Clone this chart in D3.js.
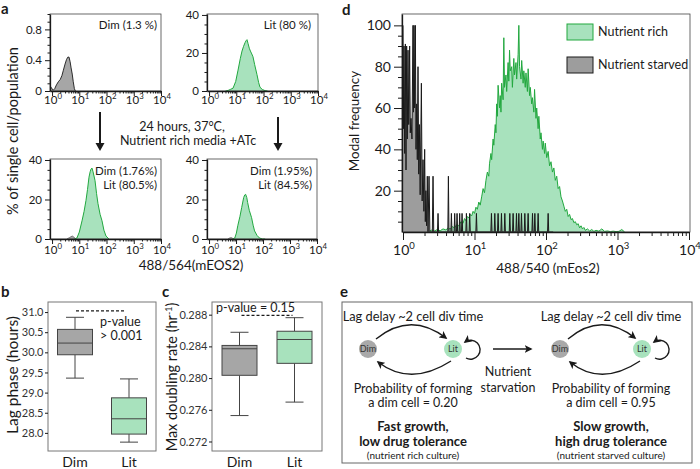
<!DOCTYPE html>
<html><head><meta charset="utf-8">
<script src="https://cdn.jsdelivr.net/npm/d3@7"></script>
<style>
body{margin:0;background:#fff;}
svg{display:block;font-family:Lato,'Open Sans',sans-serif;}
</style></head><body>
<svg id="c" width="700" height="469"></svg>
<script>
// ---------------- DATA ----------------
// Panel a histograms (x = fluorescence 488/564, y = % of population)
const aTL_x = [0.84, 0.95, 1.1, 1.25, 1.45, 1.7, 2.0, 2.3, 2.6, 3.0, 3.4, 3.8, 4.2, 4.6, 5.0, 5.5, 6.0, 6.6, 7.2];
const aTL_y = [0.07, 0.04, 0.01, 0.03, 0.08, 0.12, 0.15, 0.20, 0.27, 0.35, 0.41, 0.44, 0.44, 0.38, 0.30, 0.22, 0.12, 0.03, 0.0];
const aTR_x = [4.0, 5.0, 6.0, 7.6, 9.5, 11.6, 14, 16.2, 18.5, 20.9, 23, 24.7, 27, 30, 33, 37, 41, 47, 57.5, 66, 74, 90, 113, 140];
const aTR_y = [0, 0.3, 0.8, 1.5, 5, 11, 17, 21, 23.5, 25.4, 26.5, 27, 25, 22.5, 21, 19.5, 18, 14, 8.6, 4.5, 2, 0.8, 0.2, 0];
const aBL_x = [6.5, 8.2, 10, 12.6, 15, 17.6, 20, 22.7, 25, 27, 29.3, 32, 37.7, 43, 48.6, 58, 68.2, 80, 95.6, 123];
const aBL_y = [0, 0.5, 3.5, 9.2, 14, 19.5, 25, 31.3, 34, 35.4, 35.9, 34, 29.7, 23, 17.9, 12.5, 9.2, 4.5, 1.5, 0];
const aBLdim_x = [3.5, 4.5, 5.5, 6.5, 7.5];
const aBLdim_y = [0, 0.8, 1.5, 0.8, 0];
const aBR_x = [7.5, 9.0, 10.3, 11.6, 14, 16.2, 19.2, 21, 22.7, 25, 26.9, 31, 37.7, 43, 48.6, 60, 74, 95.6, 120];
const aBR_y = [0, 0.5, 3, 6.7, 11.5, 15.9, 21, 22.3, 22.6, 21, 18.5, 14.5, 10.8, 7, 4.1, 1.8, 0.5, 0, 0];
const aBRdim_x = [5, 6, 7, 8];
const aBRdim_y = [0, 0.6, 0.6, 0];
const aTicksDim = [0, 0.4, 0.8];
const aMinorDim = [0.1, 0.2, 0.3, 0.5, 0.6, 0.7, 0.9, 1.0];
const aTicksLit = [0, 20, 40];
const aMinorLit = [5, 10, 15, 25, 30, 35];
const logTicks = [1, 10, 100, 1000, 10000];
const logExps = ["0", "1", "2", "3", "4"];

// Panel b / c box plots
const boxCats = ["Dim", "Lit"];
const lagMin = [29.36, 27.77], lagQ1 = [29.94, 27.97], lagMed = [30.23, 28.35], lagQ3 = [30.57, 28.87], lagMax = [30.87, 29.34];
const rateMin = [0.27527, 0.27697], rateQ1 = [0.28035, 0.28186], rateMed = [0.28370, 0.28487], rateQ3 = [0.28412, 0.28591], rateMax = [0.28578, 0.28762];
const lagTicks = [28.0, 28.5, 29.0, 29.5, 30.0, 30.5, 31.0];
const rateTicks = [0.272, 0.276, 0.280, 0.284, 0.288];

// Panel d histograms: [log10(488/540), modal frequency]
const nutrientRich = [[0.00,1.0],[0.04,0.6],[0.08,1.2],[0.12,0.5],[0.16,0.8],[0.20,0.4],[0.24,1.0],[0.28,0.5],[0.32,0.7],[0.36,0.3],[0.40,0.9],[0.44,0.5],[0.48,1.2],[0.52,0.6],[0.56,1.5],[0.60,1.0],[0.63,2.0],[0.66,1.4],[0.69,2.6],[0.72,2.0],[0.75,3.5],[0.78,3.0],[0.81,5.0],[0.84,4.2],[0.86,6.5],[0.88,5.5],[0.90,7.5],[0.92,6.8],[0.94,8.5],[0.96,7.8],[0.98,10.0],[1.00,9.0],[1.02,12.0],[1.04,11.0],[1.06,14.5],[1.08,13.0],[1.10,17.0],[1.12,21.0],[1.14,19.0],[1.16,25.0],[1.18,29.0],[1.20,27.0],[1.21,33.0],[1.23,38.0],[1.24,35.0],[1.26,45.0],[1.27,42.0],[1.29,52.0],[1.30,48.0],[1.31,62.0],[1.32,56.0],[1.33,71.0],[1.35,60.0],[1.36,66.0],[1.37,58.0],[1.38,72.0],[1.40,64.0],[1.41,94.0],[1.42,70.0],[1.44,76.0],[1.45,68.0],[1.47,82.0],[1.48,73.0],[1.49,88.0],[1.50,78.0],[1.52,80.0],[1.53,70.0],[1.55,84.0],[1.56,76.0],[1.58,82.0],[1.59,74.0],[1.61,86.0],[1.62,100.0],[1.63,80.0],[1.65,74.0],[1.66,83.0],[1.68,72.0],[1.69,78.0],[1.71,70.0],[1.72,77.0],[1.74,68.0],[1.75,79.0],[1.77,66.0],[1.78,70.0],[1.80,62.0],[1.81,65.0],[1.83,58.0],[1.84,69.0],[1.86,55.0],[1.87,60.0],[1.89,50.0],[1.90,56.0],[1.92,45.0],[1.93,48.0],[1.95,40.0],[1.96,44.0],[1.98,38.0],[1.99,43.0],[2.01,36.0],[2.03,39.0],[2.05,32.0],[2.07,34.0],[2.09,29.0],[2.11,31.0],[2.13,25.0],[2.15,27.0],[2.17,21.0],[2.19,22.0],[2.21,17.0],[2.23,15.0],[2.25,12.5],[2.27,10.0],[2.29,11.0],[2.31,7.5],[2.33,8.5],[2.35,6.0],[2.37,6.5],[2.39,4.5],[2.41,5.0],[2.43,3.5],[2.45,4.0],[2.47,2.0],[2.49,3.0],[2.51,1.5],[2.53,2.2],[2.55,0.8],[2.58,1.5],[2.61,0.5],[2.64,1.2],[2.67,0.3],[2.70,0.8],[2.74,0.4],[2.78,1.5],[2.82,0.3],[2.86,0.5],[2.90,0.2],[2.94,0.4],[2.98,0.2],[3.02,0.3],[3.06,1.2],[3.10,0.0]];
const nutrientStarved = [[0.000,100],[0.007,50],[0.014,90],[0.024,38],[0.033,91],[0.042,30],[0.051,90],[0.060,45],[0.070,88],[0.080,52],[0.093,90],[0.102,48],[0.112,55],[0.125,45],[0.140,100],[0.147,58],[0.154,100],[0.163,60],[0.173,100],[0.182,40],[0.191,62],[0.200,35],[0.210,80],[0.220,28],[0.229,52],[0.240,18],[0.257,72],[0.268,15],[0.280,35],[0.292,10],[0.303,40],[0.312,5],[0.320,20],[0.330,3],[0.340,27],[0.350,0],[0.364,27],[0.376,0],[0.410,0],[0.420,27],[0.430,0],[0.482,0],[0.490,9],[0.498,0],[0.627,0],[0.635,27],[0.643,0],[0.669,0],[0.677,9],[0.685,0],[0.715,0],[0.723,9],[0.731,0],[0.748,0],[0.756,9],[0.764,0],[0.785,0],[0.793,9],[0.801,0],[0.818,0],[0.826,9],[0.834,0],[0.879,0],[0.887,9],[0.895,0],[0.925,0],[0.933,9],[0.941,0],[1.019,0],[1.027,9],[1.035,0],[1.229,0],[1.237,9],[1.245,0],[1.276,0],[1.284,9],[1.292,0],[1.322,0],[1.330,9],[1.338,0],[1.369,0],[1.377,9],[1.385,0],[1.416,0],[1.424,9],[1.432,0],[1.486,0],[1.494,9],[1.502,0],[1.532,0],[1.540,9],[1.548,0],[1.579,0],[1.587,9],[1.595,0],[1.612,0],[1.620,9],[1.628,0],[1.649,0],[1.657,9],[1.665,0],[1.696,0],[1.704,9],[1.712,0],[1.742,0],[1.750,9],[1.758,0],[1.803,0],[1.811,9],[1.819,0],[1.836,0],[1.844,9],[1.852,0],[1.882,0],[1.890,9],[1.898,0],[2.022,0],[2.030,9],[2.038,0],[2.100,0]];
const dTicks = [20, 40, 60, 80, 100];
const dMinor = [5, 10, 15, 25, 30, 35, 45, 50, 55, 65, 70, 75, 85, 90, 95];
const legendLabels = ["Nutrient rich", "Nutrient starved"];

// ---------------- STYLE ----------------
const GREEN_FILL = "#a8e2bd", GREEN_LINE = "#22a83f", GRAY_FILL = "#a6a6a6", INK = "#1a1a1a";
const svg = d3.select("#c");
const defs = svg.append("defs");
defs.append("marker").attr("id", "ah").attr("viewBox", "0 0 10 10").attr("refX", 8).attr("refY", 5)
  .attr("markerWidth", 8).attr("markerHeight", 8).attr("markerUnits", "userSpaceOnUse").attr("orient", "auto")
  .append("path").attr("d", "M0,0 L10,5 L0,10 L2.5,5 Z").attr("fill", INK);

function txt(g, x, y, s, o = {}) {
  return g.append("text").attr("x", x).attr("y", y).attr("font-size", o.fs || 12)
    .attr("text-anchor", o.anchor || "start").attr("font-weight", o.bold ? "bold" : "normal")
    .attr("fill", o.fill || INK).text(s);
}
function rtxt(g, x, y, s, fs) {
  return g.append("text").attr("transform", `translate(${x},${y}) rotate(-90)`).attr("text-anchor", "middle")
    .attr("font-size", fs).attr("fill", INK).text(s);
}
function powLabel(g, x, y, exp, fs) {
  const t = g.append("text").attr("x", x).attr("y", y).attr("text-anchor", "middle").attr("font-size", fs).attr("fill", INK);
  t.append("tspan").text("10");
  t.append("tspan").attr("dy", -fs * 0.42).attr("font-size", fs * 0.68).text(exp);
}
function styleAxis(a, fs) {
  a.attr("font-family", null).attr("font-size", fs);
  a.selectAll("text").attr("fill", INK);
  a.selectAll("line").attr("stroke", INK);
}
let clipN = 0;
function drawHist(o) {
  const x = d3.scaleLog().domain(o.xDomain).range([o.x0, o.x1]);
  const y = d3.scaleLinear().domain([0, o.ymax]).range([o.y1, o.y0]);
  const id = "clip" + (clipN++);
  defs.append("clipPath").attr("id", id).append("rect")
    .attr("x", o.bx0).attr("y", o.y0).attr("width", o.bx1 - o.bx0).attr("height", o.y1 - o.y0);
  const g = svg.append("g");
  const pg = g.append("g").attr("clip-path", `url(#${id})`);
  const area = d3.area().x(d => x(d[0])).y0(y(0)).y1(d => y(d[1]));
  const line = d3.line().x(d => x(d[0])).y(d => y(d[1]));
  o.series.forEach(s => {
    pg.append("path").attr("d", area(s.pts)).attr("fill", s.fill);
    pg.append("path").attr("d", line(s.pts)).attr("fill", "none").attr("stroke", s.stroke)
      .attr("stroke-width", s.sw || 1).attr("stroke-linejoin", "round");
  });
  g.append("rect").attr("x", o.bx0).attr("y", o.y0).attr("width", o.bx1 - o.bx0).attr("height", o.y1 - o.y0)
    .attr("fill", "none").attr("stroke", "#444").attr("stroke-width", 0.8);
  // y axis
  const ya = g.append("g").attr("transform", `translate(${o.bx0},0)`)
    .call(d3.axisLeft(y).tickValues(o.yTicks).tickSize(o.majLen).tickSizeOuter(0).tickPadding(o.yPad).tickFormat(o.yFmt));
  styleAxis(ya, o.fs);
  ya.select(".domain").attr("stroke", INK).attr("stroke-width", 1.3);
  const ym = g.append("g").attr("transform", `translate(${o.bx0},0)`)
    .call(d3.axisLeft(y).tickValues(o.yMinor).tickSize(o.minLen).tickFormat(""));
  ym.select(".domain").remove(); ym.selectAll("line").attr("stroke", INK);
  // x axis
  const xa = g.append("g").attr("transform", `translate(0,${o.y1})`)
    .call(d3.axisBottom(x).tickValues(logTicks).tickSize(o.majLen).tickSizeOuter(0).tickFormat(""));
  styleAxis(xa, o.fs);
  xa.select(".domain").attr("stroke", INK).attr("stroke-width", 1.3);
  const minors = [];
  [1, 10, 100, 1000].forEach(d => [2, 3, 4, 5, 6, 7, 8, 9].forEach(m => minors.push(d * m)));
  const xm = g.append("g").attr("transform", `translate(0,${o.y1})`)
    .call(d3.axisBottom(x).tickValues(minors).tickSize(o.minLen).tickFormat(""));
  xm.select(".domain").remove(); xm.selectAll("line").attr("stroke", INK);
  logTicks.forEach((v, i) => powLabel(g, x(v) + 1, o.xLabY, logExps[i], o.xfs || o.fs));
  return g;
}
const zip = (xs, ys) => xs.map((v, i) => [v, ys[i]]);

// ---------------- PANEL a ----------------
const aBase = { xDomain: [0.84, 10000], majLen: 5, minLen: 2.5, yPad: 3, fs: 11.5, xfs: 11.5 };
const gTL = drawHist(Object.assign({}, aBase, { x0: 50, x1: 161, bx0: 50, bx1: 161, y0: 14, y1: 91, ymax: 1.0,
  yTicks: aTicksDim, yMinor: aMinorDim, yFmt: d3.format("~g"), xLabY: 104,
  series: [{ pts: zip(aTL_x, aTL_y), fill: GRAY_FILL, stroke: INK, sw: 0.9 }] }));
txt(gTL, 157, 29, "Dim (1.3 %)", { fs: 11.5, anchor: "end" });
const gTR = drawHist(Object.assign({}, aBase, { x0: 207, x1: 318, bx0: 207, bx1: 318, y0: 14, y1: 91, ymax: 40.5,
  yTicks: aTicksLit, yMinor: aMinorLit, yFmt: d3.format("d"), xLabY: 104,
  series: [{ pts: zip(aTR_x, aTR_y), fill: GREEN_FILL, stroke: GREEN_LINE }] }));
txt(gTR, 311, 29, "Lit (80 %)", { fs: 11.5, anchor: "end" });
const gBL = drawHist(Object.assign({}, aBase, { x0: 50, x1: 161, bx0: 50, bx1: 161, y0: 159, y1: 239, ymax: 40.5,
  yTicks: aTicksLit, yMinor: aMinorLit, yFmt: d3.format("d"), xLabY: 254,
  series: [{ pts: zip(aBLdim_x, aBLdim_y), fill: GRAY_FILL, stroke: "#777" },
           { pts: zip(aBL_x, aBL_y), fill: GREEN_FILL, stroke: GREEN_LINE }] }));
txt(gBL, 157, 175, "Dim (1.76%)", { fs: 11.5, anchor: "end" });
txt(gBL, 157, 189, "Lit (80.5%)", { fs: 11.5, anchor: "end" });
const gBR = drawHist(Object.assign({}, aBase, { x0: 207, x1: 317, bx0: 207, bx1: 317, y0: 159, y1: 239, ymax: 40.5,
  yTicks: aTicksLit, yMinor: aMinorLit, yFmt: d3.format("d"), xLabY: 254,
  series: [{ pts: zip(aBRdim_x, aBRdim_y), fill: GRAY_FILL, stroke: "#777" },
           { pts: zip(aBR_x, aBR_y), fill: GREEN_FILL, stroke: GREEN_LINE }] }));
txt(gBR, 312, 175, "Dim (1.95%)", { fs: 11.5, anchor: "end" });
txt(gBR, 312, 189, "Lit (84.5%)", { fs: 11.5, anchor: "end" });

const ga = svg.append("g");
txt(ga, 1, 14, "a", { fs: 15, bold: true });
rtxt(ga, 18, 131, "% of single cell/population", 14.5);
txt(ga, 191, 270, "488/564(mEOS2)", { fs: 13.5, anchor: "middle" });
txt(ga, 182, 131, "24 hours, 37°C,", { fs: 12.5, anchor: "middle" });
txt(ga, 188, 145, "Nutrient rich media +ATc", { fs: 12.5, anchor: "middle" });
[[100, 112, 151], [278, 117, 151]].forEach(([ax, ay0, ay1]) => {
  ga.append("line").attr("x1", ax).attr("x2", ax).attr("y1", ay0).attr("y2", ay1 - 6).attr("stroke", INK).attr("stroke-width", 2);
  ga.append("path").attr("d", `M${ax - 4.5},${ay1 - 8} L${ax + 4.5},${ay1 - 8} L${ax},${ay1} Z`).attr("fill", INK);
});

// ---------------- PANELS b, c ----------------
function boxPanel(o) {
  const x = d3.scalePoint().domain(boxCats).range([o.left, o.right]).padding(0.5);
  const y = d3.scaleLinear().domain(o.yDomain).range([o.bottom, o.top]);
  const g = svg.append("g");
  g.append("rect").attr("x", o.left).attr("y", o.top).attr("width", o.right - o.left).attr("height", o.bottom - o.top)
    .attr("fill", "none").attr("stroke", "#777").attr("stroke-width", 1);
  const fills = [GRAY_FILL, GREEN_FILL];
  boxCats.forEach((c, i) => {
    const cx = x(c), bw = 35, cw = 18;
    const st = "#444";
    g.append("line").attr("x1", cx).attr("x2", cx).attr("y1", y(o.max[i])).attr("y2", y(o.q3[i])).attr("stroke", st);
    g.append("line").attr("x1", cx).attr("x2", cx).attr("y1", y(o.q1[i])).attr("y2", y(o.min[i])).attr("stroke", st);
    g.append("line").attr("x1", cx - cw / 2).attr("x2", cx + cw / 2).attr("y1", y(o.max[i])).attr("y2", y(o.max[i])).attr("stroke", st);
    g.append("line").attr("x1", cx - cw / 2).attr("x2", cx + cw / 2).attr("y1", y(o.min[i])).attr("y2", y(o.min[i])).attr("stroke", st);
    g.append("rect").attr("x", cx - bw / 2).attr("y", y(o.q3[i])).attr("width", bw).attr("height", y(o.q1[i]) - y(o.q3[i]))
      .attr("fill", fills[i]).attr("stroke", st);
    g.append("line").attr("x1", cx - bw / 2).attr("x2", cx + bw / 2).attr("y1", y(o.med[i])).attr("y2", y(o.med[i])).attr("stroke", st);
    txt(g, cx, 466.5, c, { fs: 14, anchor: "middle" });
  });
  const ya = g.append("g").attr("transform", `translate(${o.left},0)`)
    .call(d3.axisLeft(y).tickValues(o.ticks).tickSize(3).tickSizeOuter(0).tickPadding(1.5).tickFormat(o.fmt));
  styleAxis(ya, 11);
  ya.select(".domain").remove();
  ya.selectAll("text").attr("fill", "#333");
  return { g, x, y };
}
const pb = boxPanel({ left: 48, right: 156, top: 302, bottom: 451, yDomain: [27.55, 31.25],
  min: lagMin, q1: lagQ1, med: lagMed, q3: lagQ3, max: lagMax, ticks: lagTicks, fmt: d3.format(".1f") });
pb.g.append("line").attr("x1", pb.x("Dim") + 1).attr("x2", pb.x("Lit") - 4).attr("y1", pb.y(31.03)).attr("y2", pb.y(31.03))
  .attr("stroke", INK).attr("stroke-width", 1.2).attr("stroke-dasharray", "3,2");
txt(pb.g, 100, 326, "p-value", { fs: 12.5 });
txt(pb.g, 100, 340, "> 0.001", { fs: 12.5 });
txt(pb.g, 1, 297, "b", { fs: 15, bold: true });
rtxt(pb.g, 18, 375, "Lag phase (hours)", 15.5);

const pc = boxPanel({ left: 212, right: 322, top: 302, bottom: 451, yDomain: [0.2708, 0.2896],
  min: rateMin, q1: rateQ1, med: rateMed, q3: rateQ3, max: rateMax, ticks: rateTicks, fmt: d3.format(".3f") });
pc.g.append("line").attr("x1", pc.x("Dim") + 2).attr("x2", pc.x("Lit") - 2).attr("y1", pc.y(0.2879)).attr("y2", pc.y(0.2879))
  .attr("stroke", INK).attr("stroke-width", 1.2).attr("stroke-dasharray", "3,2");
txt(pc.g, 216, 312, "p-value = 0.15", { fs: 12.5 });
txt(pc.g, 162, 297, "c", { fs: 15, bold: true });
const cy = rtxt(pc.g, 177, 377, "", 14.5);
cy.append("tspan").text("Max doubling rate (hr");
cy.append("tspan").attr("dy", -5).attr("font-size", 9).text("-1");
cy.append("tspan").attr("dy", 5).text(")");

// ---------------- PANEL d ----------------
const toLin = arr => arr.map(d => [Math.pow(10, d[0]), d[1]]);
const gD = drawHist({ xDomain: [1, 10000], x0: 403, x1: 689, bx0: 402, bx1: 690, y0: 14, y1: 232, ymax: 105.5,
  majLen: 8, minLen: 4, yPad: 3, fs: 14, yTicks: dTicks, yMinor: dMinor, yFmt: d3.format("d"), xLabY: 255,
  series: [{ pts: toLin(nutrientRich), fill: GREEN_FILL, stroke: GREEN_LINE, sw: 1 },
           { pts: toLin(nutrientStarved), fill: "#9d9d9d", stroke: INK, sw: 1 }] });
txt(gD, 342, 14.5, "d", { fs: 15, bold: true });
rtxt(gD, 359, 121, "Modal frequency", 13.5);
txt(gD, 548, 273, "488/540 (mEos2)", { fs: 13.5, anchor: "middle" });
const legFills = [[GREEN_FILL, GREEN_LINE], ["#9d9d9d", INK]];
legendLabels.forEach((l, i) => {
  gD.append("rect").attr("x", 567).attr("y", 24 + i * 33).attr("width", 26).attr("height", 16)
    .attr("fill", legFills[i][0]).attr("stroke", legFills[i][1]).attr("stroke-width", 1);
  txt(gD, 598, 36 + i * 33, l, { fs: 12.5 });
});

// ---------------- PANEL e ----------------
const ge = svg.append("g");
txt(ge, 340, 297, "e", { fs: 15, bold: true });
ge.append("rect").attr("x", 342).attr("y", 302).attr("width", 350).attr("height", 161)
  .attr("fill", "none").attr("stroke", "#666").attr("stroke-width", 1);
function cycle(dimX, litX, cx, prob, l1, l2, l3) {
  const cyy = 349, mid = (dimX + litX) / 2;
  const arr = (d) => ge.append("path").attr("d", d).attr("fill", "none").attr("stroke", INK).attr("stroke-width", 1.4).attr("marker-end", "url(#ah)");
  arr(`M${dimX + 8},${cyy - 10} Q${mid},${cyy - 38} ${litX - 7},${cyy - 11}`);
  arr(`M${litX - 2},${cyy + 12} Q${mid},${cyy + 38} ${dimX + 10},${cyy + 13}`);
  arr(`M${litX + 13},${cyy + 9} A9.5 9.5 0 1 0 ${litX + 12},${cyy - 7}`);
  ge.append("circle").attr("cx", dimX).attr("cy", cyy).attr("r", 9).attr("fill", "#a9a9a9");
  ge.append("circle").attr("cx", litX).attr("cy", cyy).attr("r", 9).attr("fill", GREEN_FILL);
  txt(ge, dimX, cyy + 3, "Dim", { fs: 9, anchor: "middle", fill: "#333" });
  txt(ge, litX, cyy + 3, "Lit", { fs: 9, anchor: "middle", fill: "#333" });
  txt(ge, cx, 321, "Lag delay ~2 cell div time", { fs: 12.8, anchor: "middle" });
  txt(ge, cx, 393, "Probability of forming", { fs: 12.5, anchor: "middle" });
  txt(ge, cx, 407, "a dim cell = " + prob, { fs: 12.5, anchor: "middle" });
  txt(ge, cx, 431, l1, { fs: 13, anchor: "middle", bold: true });
  txt(ge, cx, 446, l2, { fs: 13, anchor: "middle", bold: true });
  txt(ge, cx, 459, l3, { fs: 10, anchor: "middle" });
}
cycle(368, 453, 413, "0.20", "Fast growth,", "low drug tolerance", "(nutrient rich culture)");
cycle(560, 642, 611, "0.95", "Slow growth,", "high drug tolerance", "(nutrient starved culture)");
ge.append("path").attr("d", "M493,349 L531,349").attr("stroke", INK).attr("stroke-width", 1.4).attr("marker-end", "url(#ah)");
txt(ge, 508, 376, "Nutrient", { fs: 12.5, anchor: "middle" });
txt(ge, 508, 392, "starvation", { fs: 12.5, anchor: "middle" });
</script>
</body></html>
